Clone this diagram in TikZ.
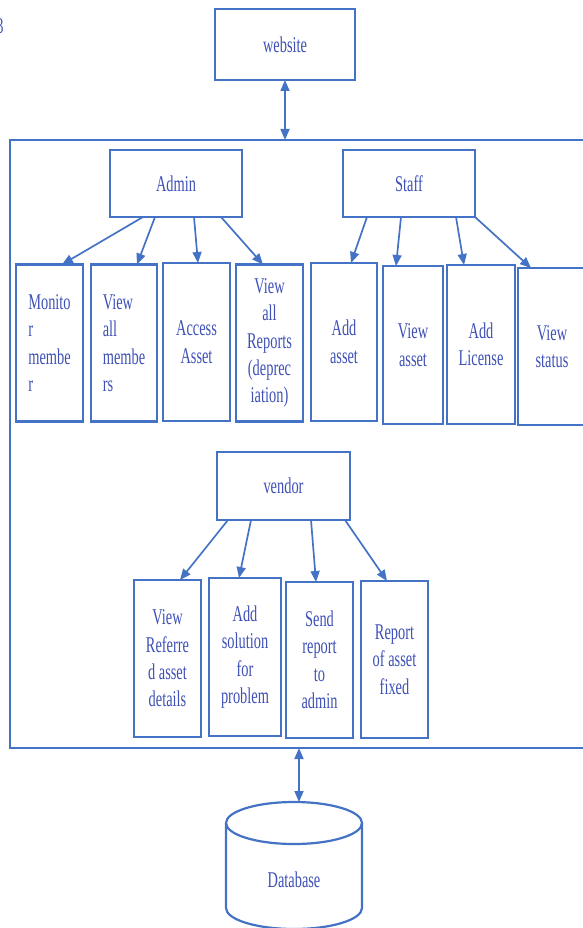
\documentclass[tikz,border=0pt]{standalone}
\usepackage{fontspec}
\setmainfont{Liberation Serif}[FakeStretch=0.64]
\usetikzlibrary{arrows.meta}
\newlength\pu
\setlength\pu{0.02cm}
\definecolor{edge}{RGB}{68,114,196}
\definecolor{ink}{RGB}{62,80,182}
\tikzset{
  box/.style={draw=edge, line width=2.4\pu, inner sep=0pt, outer sep=0pt,
    text=ink, align=center, font=\fontsize{12.8}{15.6}\selectfont},
  leftbox/.style={box, align=left},
  tip/.tip={Triangle[length=0.22cm, width=0.18cm]},
  arr/.style={draw=edge, line width=0.034cm, -tip},
  dbl/.style={draw=edge, line width=0.034cm, tip-tip},
}
\begin{document}
\begin{tikzpicture}[x=1\pu, y=-1\pu]
\useasboundingbox (0,0) rectangle (582,928);

% stray margin glyph
\node[text=ink, font=\fontsize{12.8}{15.6}\selectfont, anchor=east, inner sep=0pt] (mark) at (4,26) {3};

% top level and system frame
\node[box, minimum width=140\pu, minimum height=71\pu] (web) at (285,44.5) {website};
\node[draw=edge, line width=2.4\pu, inner sep=0pt, outer sep=0pt,
  minimum width=580\pu, minimum height=608\pu] (frame) at (300,444) {};

% actors
\node[box, minimum width=132\pu, minimum height=67\pu] (admin) at (176,183.5) {Admin};
\node[box, minimum width=132\pu, minimum height=67\pu] (staff) at (409,183.5) {Staff};
\node[box, minimum width=133\pu, minimum height=68\pu] (vendor) at (283.5,486) {vendor};

% admin tasks
\node[leftbox, minimum width=67\pu, minimum height=157\pu] (mon) at (49.5,343) {Monito\\r\\membe\\r};
\node[leftbox, minimum width=66\pu, minimum height=157\pu] (vam) at (124,343) {View\\all\\membe\\rs};
\node[box, minimum width=67\pu, minimum height=158\pu] (acc) at (196.5,342) {Access\\Asset};
\node[box, minimum width=67\pu, minimum height=157\pu] (rep) at (269.5,343) {View\\all\\Reports\\(deprec\\iation)};

% staff tasks
\node[box, minimum width=66\pu, minimum height=158\pu] (adda) at (344,342) {Add\\asset};
\node[box, minimum width=60\pu, minimum height=158\pu] (vas) at (413,345) {View\\asset};
\node[box, minimum width=68\pu, minimum height=159\pu] (lic) at (481,344.5) {Add\\License};
\node[box, minimum width=68\pu, minimum height=157\pu] (vst) at (552,346.5) {View\\status};

% vendor tasks
\node[box, minimum width=67\pu, minimum height=157\pu] (vref) at (167.5,658.5) {View\\Referre\\d asset\\details};
\node[box, minimum width=72\pu, minimum height=158\pu] (asol) at (245,657) {Add\\solution\\for\\problem};
\node[box, minimum width=67\pu, minimum height=156\pu] (send) at (319.5,660) {Send\\report\\to\\admin};
\node[box, minimum width=67\pu, minimum height=157\pu] (fixed) at (394.5,659.5) {Report\\of asset\\fixed};

% database cylinder
\node[text=ink, font=\fontsize{12.8}{15.6}\selectfont, inner sep=0pt] (db) at (294,880) {Database};
\coordinate (dbtop) at (299,802);
\draw[edge, line width=2.2\pu] (294,823) ellipse [x radius=68, y radius=21];
\draw[edge, line width=2.2\pu] (226,823) -- (226,908) arc[start angle=180, end angle=360, x radius=68, y radius=-21] -- (362,823);

% links to the outside
\draw[dbl] (web.south) -- (web.south |- frame.north);
\draw[dbl] (dbtop |- frame.south) -- (dbtop);

% admin links
\draw[arr] ([xshift=33\pu]admin.south west) -- ([xshift=46\pu]mon.north west);
\draw[arr] ([xshift=45\pu]admin.south west) -- ([xshift=46\pu]vam.north west);
\draw[arr] ([xshift=84\pu]admin.south west) -- ([xshift=35\pu]acc.north west);
\draw[arr] ([xshift=111\pu]admin.south west) -- ([xshift=27\pu]rep.north west);

% staff links
\draw[arr] ([xshift=24\pu]staff.south west) -- ([xshift=40\pu]adda.north west);
\draw[arr] ([xshift=58\pu]staff.south west) -- ([xshift=13\pu]vas.north west);
\draw[arr] ([xshift=113\pu]staff.south west) -- ([xshift=17\pu]lic.north west);
\draw[arr] ([xshift=132\pu]staff.south west) -- ([xshift=13\pu]vst.north west);

% vendor links
\draw[arr] ([xshift=11\pu]vendor.south west) -- ([xshift=46\pu]vref.north west);
\draw[arr] ([xshift=34\pu]vendor.south west) -- ([xshift=30\pu]asol.north west);
\draw[arr] ([xshift=94\pu]vendor.south west) -- ([xshift=30\pu]send.north west);
\draw[arr] ([xshift=128\pu]vendor.south west) -- ([xshift=26\pu]fixed.north west);
\end{tikzpicture}
\end{document}
